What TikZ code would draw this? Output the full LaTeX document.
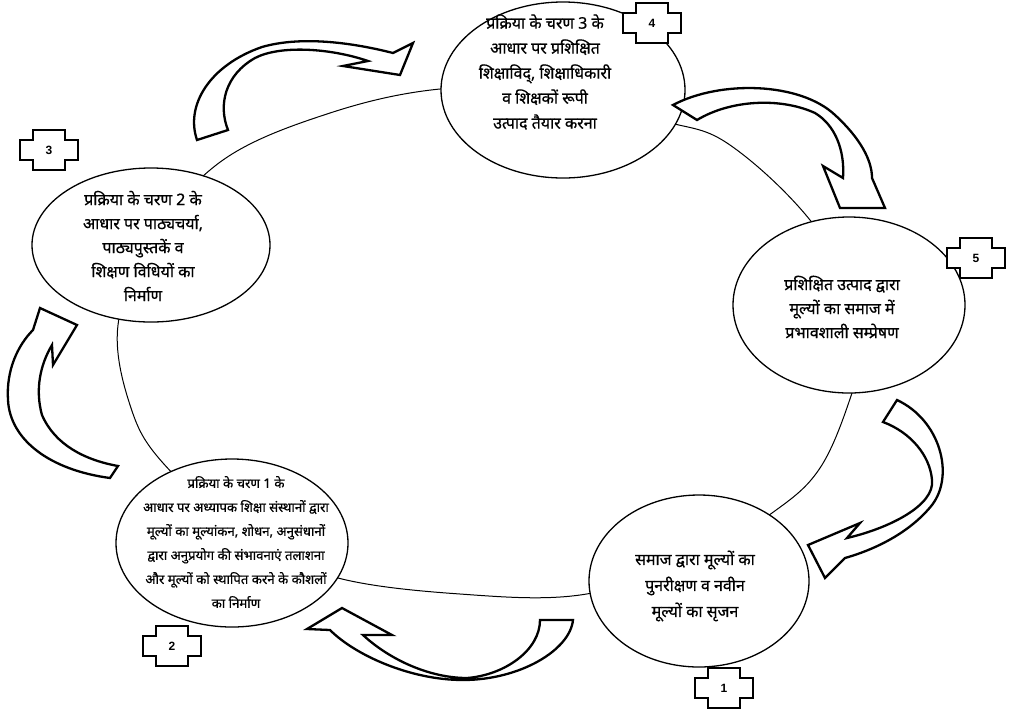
\documentclass[tikz,border=0pt]{standalone}
\usepackage{fontspec}
\newfontfamily\dev[Script=Devanagari,FakeBold=0.6]{Noto Sans}
\setsansfont{Liberation Sans}
\usetikzlibrary{shapes.geometric}
\tikzset{
  stage/.style={draw, ellipse, fill=white, line width=1.3pt, inner sep=0pt},
  stagetext/.style={align=center, font=\dev\fontsize{16}{25}\selectfont, inner sep=0pt},
  blockarrow/.style={draw, fill=white, line width=2.3pt, line join=miter},
  labelbox/.style={draw, fill=white, line width=1.8pt},
  labeltext/.style={font=\sffamily\bfseries\fontsize{12}{14}\selectfont, inner sep=0pt},
  ring/.style={draw, line width=1pt}
}
\newcommand\stagelabel[4]{%
  \node[labeltext] (#1) at (#2,#3) {};
  \draw[labelbox, shift={(#1)}] (-29,-10) -- (-16,-10) -- (-16,-20) -- (16,-20) -- (16,-10) -- (29,-10)
     -- (29,10) -- (16,10) -- (16,20) -- (-16,20) -- (-16,10) -- (-29,10) -- cycle;
  \node[labeltext] at (#1) {#4};
}
\begin{document}
\begin{tikzpicture}[x=1pt,y=-1pt]
\useasboundingbox (0,0) rectangle (1016,713);
\fill[white] (0,0) rectangle (1016,713);
% big ring
\draw[ring] plot[smooth cycle, tension=0.6] coordinates {(118,325) (130,405) (163,463) (250,540) (338,578) (460,594) (580,595) (690,562) (772,513) (820,468) (852,393) (870,320) (810,220) (727,143) (660,120) (560,90) (440,89) (330,113) (223,160) (150,240)};
% stage ellipses
\node[stage, minimum width=244pt, minimum height=176pt] (n4) at (563,90) {};
\node[stage, minimum width=238pt, minimum height=154pt] (n3) at (151,245) {};
\node[stage, minimum width=232pt, minimum height=176pt] (n5) at (849,305) {};
\node[stage, minimum width=220pt, minimum height=172pt] (n1) at (699,581) {};
\node[stage, minimum width=232pt, minimum height=168pt] (n2) at (232,543) {};
% texts
\node[stagetext] (t4) at (545,72) {प्रक्रिया के चरण 3 के\\आधार पर प्रशिक्षित\\शिक्षाविद्, शिक्षाधिकारी\\व शिक्षकों रूपी\\उत्पाद तैयार करना};
\node[stagetext, font=\dev\fontsize{16}{24}\selectfont] (t3) at (143,246) {प्रक्रिया के चरण 2 के\\आधार पर पाठ्यचर्या,\\पाठ्यपुस्तकें व\\शिक्षण विधियों का\\निर्माण};
\node[stagetext, font=\dev\fontsize{16}{24}\selectfont] (t5) at (842,307) {प्रशिक्षित उत्पाद द्वारा\\मूल्यों का समाज में\\प्रभावशाली सम्प्रेषण};
\node[stagetext, font=\dev\fontsize{16}{26}\selectfont] (t1) at (695,586) {समाज द्वारा मूल्यों का\\पुनरीक्षण व नवीन\\मूल्यों का सृजन};
\node[stagetext, font=\dev\fontsize{13.2}{24}\selectfont] (t2) at (236,542) {प्रक्रिया के चरण 1 के\\आधार पर अध्यापक शिक्षा संस्थानों द्वारा\\मूल्यों का मूल्यांकन, शोधन, अनुसंधानों\\द्वारा अनुप्रयोग की संभावनाएं तलाशना\\और मूल्यों को स्थापित करने के कौशलों\\का निर्माण};
% block arrows
% A: 3 -> 4
\draw[blockarrow] (197,140) .. controls (185,105) and (210,65) .. (262,47) .. controls (300,36) and (350,42) .. (393,53) -- (413,43) -- (400,75) -- (343,66) -- (368,61) .. controls (330,48) and (280,45) .. (255,58) .. controls (225,75) and (218,105) .. (228,130) -- cycle;
% B: 4 -> 5
\draw[blockarrow] (673,105) .. controls (720,80) and (800,82) .. (835,115) .. controls (860,138) and (872,160) .. (872,178) -- (885,208) -- (840,208) -- (823,166) -- (843,178) .. controls (845,150) and (835,125) .. (815,113) .. controls (780,97) and (730,100) .. (697,120) -- cycle;
% C: 5 -> 1
\draw[blockarrow] (897,400) .. controls (940,420) and (955,475) .. (932,505) .. controls (912,530) and (880,548) .. (845,558) -- (825,578) -- (808,545) -- (860,523) -- (847,538) .. controls (890,528) and (935,505) .. (932,480) .. controls (930,455) and (910,432) .. (883,422) -- cycle;
% D: 1 -> 2
\draw[blockarrow] (573,620) .. controls (570,650) and (520,680) .. (463,680) .. controls (410,680) and (355,655) .. (330,630) -- (307,629) -- (342,608) -- (392,635) -- (363,635) .. controls (390,660) and (430,678) .. (467,678) .. controls (505,675) and (540,650) .. (540,620) -- cycle;
% E: 2 -> 3
\draw[blockarrow] (110,478) .. controls (50,470) and (10,440) .. (8,400) .. controls (6,370) and (18,345) .. (33,330) -- (40,308) -- (77,325) -- (53,365) -- (52,345) .. controls (40,365) and (35,390) .. (42,415) .. controls (55,445) and (85,460) .. (118,466) -- cycle;
% labels
\stagelabel{l4}{652}{23}{4}
\stagelabel{l3}{49}{150}{3}
\stagelabel{l5}{976}{258}{5}
\stagelabel{l2}{172}{646}{2}
\stagelabel{l1}{724}{688}{1}
\end{tikzpicture}
\end{document}
